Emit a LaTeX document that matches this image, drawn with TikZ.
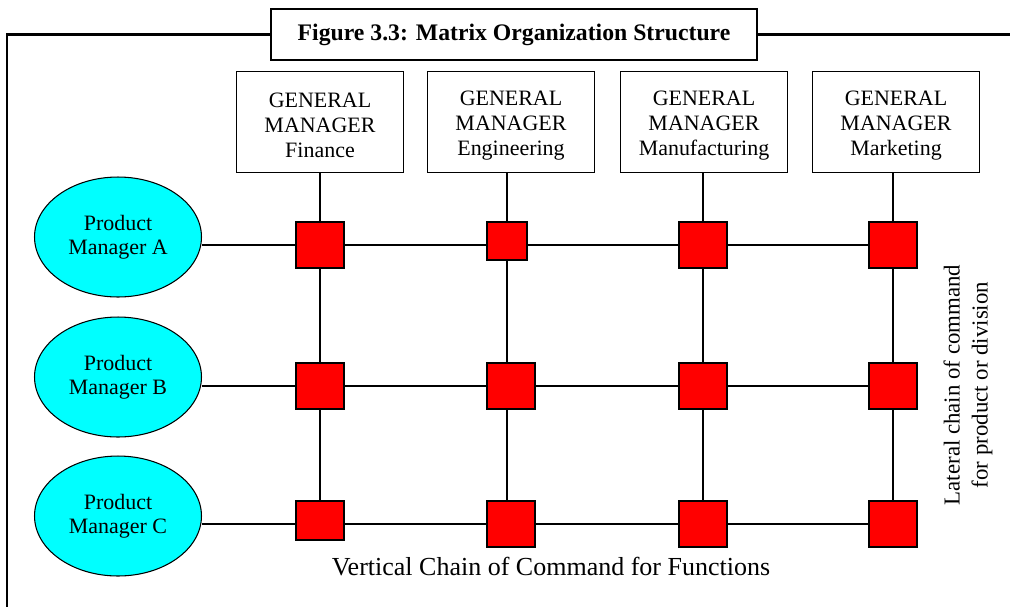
\documentclass[tikz,border=0pt]{standalone}
\usepackage{fontspec}
\setmainfont{Liberation Serif}
\usetikzlibrary{shapes.geometric,backgrounds}
\definecolor{pmcyan}{RGB}{0,255,255}
\definecolor{cellred}{RGB}{255,0,0}

\begin{document}
\begin{tikzpicture}[x=0.02cm,y=-0.02cm,
    gm/.style={draw,line width=0.6pt,minimum width=3.34cm,minimum height=2.02cm,
      align=center,font=\fontsize{12.5}{14.2}\selectfont},
    pm/.style={ellipse,draw,line width=0.6pt,fill=pmcyan,minimum width=3.34cm,
      minimum height=2.4cm,inner sep=0pt,align=center,font=\fontsize{12.5}{13.7}\selectfont},
    cell/.style={draw,line width=0.8pt,fill=cellred,inner sep=0pt,
      minimum width=0.96cm,minimum height=0.92cm},
    link/.style={line width=0.6pt},
    frame/.style={line width=1.2pt}]
  \useasboundingbox (0,0) rectangle (1010,606);

  % frame with title
  \node[draw,frame,fill=white,minimum width=9.72cm,minimum height=1.02cm,
    font=\fontsize{13.5}{16}\selectfont\bfseries] (title) at (514,34.5)
    {Figure 3.3: Matrix Organization Structure};
  \coordinate (frameL) at (7,612);
  \coordinate (frameR) at (1014,34.5);
  \draw[frame] (title.west) -| (frameL);
  \draw[frame] (title.east) -- (frameR);

  % functional heads
  \node[gm] (fin) at (320,122) {\rule{0pt}{12pt}GENERAL\\MANAGER\\Finance};
  \node[gm] (eng) at (511,122) {\rule{0pt}{12pt}GENERAL\\MANAGER\\Engineering};
  \node[gm] (mfg) at (704,122) {\rule{0pt}{12pt}GENERAL\\MANAGER\\Manufacturing};
  \node[gm] (mkt) at (896,122) {\rule{0pt}{12pt}GENERAL\\MANAGER\\Marketing};

  % product managers
  \node[pm] (pmA) at (118,237) {Product\\Manager A};
  \node[pm] (pmB) at (118,377) {Product\\Manager B};
  \node[pm] (pmC) at (118,516) {Product\\Manager C};

  % matrix cells
  \foreach \n/\x/\y in {11/320/245,13/703/245,14/893/245,
                        21/320/386,22/511/386,23/703/386,24/893/386,
                        32/511/524,33/703/524,34/893/524}
    \node[cell] (s\n) at (\x,\y) {};
  \node[cell,minimum width=0.8cm,minimum height=0.76cm] (s12) at (507,241) {};
  \node[cell,minimum height=0.78cm] (s31) at (320,520.5) {};

  \begin{scope}[on background layer]
    \draw[link] (pmA.east |- s11) -- (s14);
    \draw[link] (pmB.east |- s21) -- (s24);
    \draw[link] (pmC.east |- s34) -- (s34);
    \draw[link] (fin.south -| s11) -- (s31);
    \draw[link] (eng.south -| s12) -- (s12.center |- s32);
    \draw[link] (mfg.south -| s13) -- (s33);
    \draw[link] (mkt.south -| s14) -- (s34);
  \end{scope}

  \node[rotate=90,align=center,font=\fontsize{13}{16}\selectfont] (lateral) at (968,385)
    {Lateral chain of command\\for product or division};
  \node[font=\fontsize{14.8}{17}\selectfont] (vertical) at (551,567)
    {Vertical Chain of Command for Functions};
\end{tikzpicture}
\end{document}
